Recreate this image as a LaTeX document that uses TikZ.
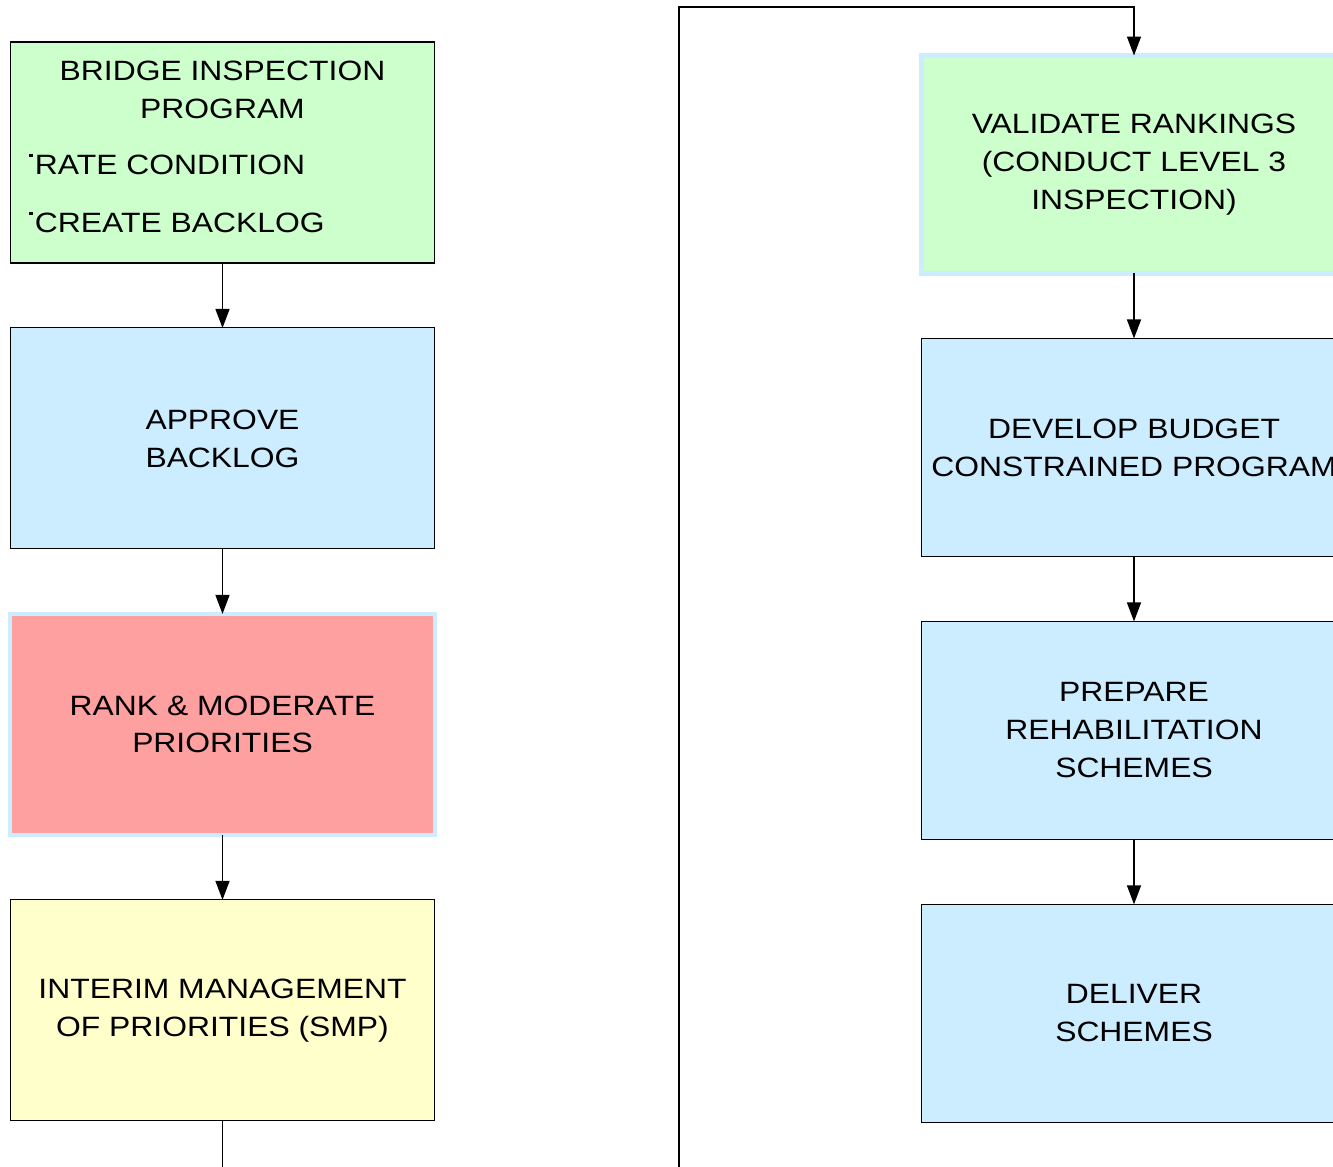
\documentclass[tikz,border=0pt]{standalone}
\usepackage{fontspec}
\setmainfont{Liberation Sans}[FakeStretch=1.14]
\usetikzlibrary{positioning,arrows.meta}

\definecolor{inspgreen}{HTML}{CCFFCC}
\definecolor{taskblue}{HTML}{CCECFF}
\definecolor{rankred}{HTML}{FFA0A0}
\definecolor{smpyellow}{HTML}{FFFFCC}

% small raised square used in front of the list items
\newcommand{\sqbullet}{\rule[9.6pt]{1.9pt}{1.9pt}\hspace{1.3pt}}

\begin{document}
\begin{tikzpicture}[
	x=0.02cm, y=-0.02cm,
	font=\fontsize{15.9pt}{21.6pt}\selectfont,
	node distance=1.3cm,
	box/.style={
		draw=black,
		line width=0.6pt,
		minimum width=8.5cm,
		minimum height=4.42cm,
		inner sep=0pt,
		outer sep=0pt,
		align=center
	},
	rbox/.style={
		box,
		minimum height=4.36cm
	},
	halo/.style={
		draw=taskblue,
		line width=2.4pt
	},
	flow/.style={
		line width=0.8pt,
		-{Triangle[length=0.38cm,width=0.28cm]}
	},
	wire/.style={
		line width=0.8pt
	}
	]

	\useasboundingbox (0,0) rectangle (1333,1167);
	\clip (0,0) rectangle (1333,1167);

	% left column
	\node[box, fill=inspgreen] (inspect) at (222.5,152.5) {};
	\node[anchor=north, align=center, inner sep=0pt] (insptitle) at (222.5,61)
	{BRIDGE INSPECTION\\PROGRAM};
	\node[anchor=base west, inner sep=0pt] (rate) at (29,174) {\sqbullet RATE CONDITION};
	\node[anchor=base west, inner sep=0pt] (create) at (29,232) {\sqbullet CREATE BACKLOG};

	\node[box, fill=taskblue, below=of inspect] (approve) {APPROVE\\BACKLOG};
	\node[box, halo, fill=rankred, below=of approve] (rank) {RANK \& MODERATE\\PRIORITIES};
	\node[box, fill=smpyellow, below=of rank] (interim) {INTERIM MANAGEMENT\\OF PRIORITIES (SMP)};

	% right column
	\node[rbox, halo, fill=inspgreen] (validate) at (1134,164.5)
	{VALIDATE RANKINGS\\(CONDUCT LEVEL 3\\INSPECTION)};
	\node[rbox, fill=taskblue, below=of validate] (budget) {DEVELOP BUDGET\\CONSTRAINED PROGRAM};
	\node[rbox, fill=taskblue, below=of budget] (prepare) {PREPARE\\REHABILITATION\\SCHEMES};
	\node[rbox, fill=taskblue, below=of prepare] (deliver) {DELIVER\\SCHEMES};

	% connectors
	\draw[flow] (inspect) -- (approve);
	\draw[flow] (approve) -- (rank);
	\draw[flow] (rank) -- (interim);

	\coordinate (leftout) at (222.5,1167);
	\draw[wire] (interim) -- (leftout);

	\coordinate (loopin) at (679,1167);
	\coordinate (looptop) at (1134,7);
	\draw[flow] (loopin) |- (looptop) -- (validate.north);

	\draw[flow] (validate) -- (budget);
	\draw[flow] (budget) -- (prepare);
	\draw[flow] (prepare) -- (deliver);
\end{tikzpicture}
\end{document}
